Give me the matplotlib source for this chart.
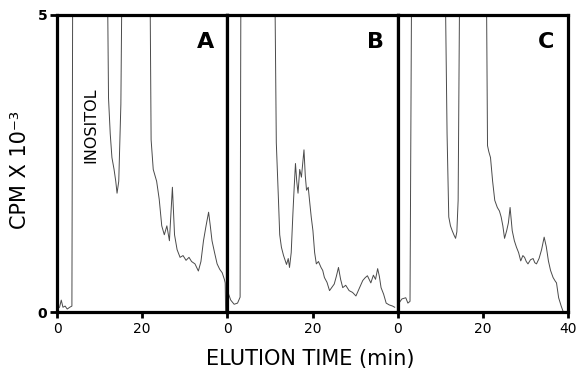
import matplotlib
matplotlib.use("Agg")
import matplotlib.pyplot as plt

# elution profiles, CPM x 10^-3; 6.0 marks peaks that run off the top of the scale
a_time = [0.0, 0.6, 1.0, 1.4, 1.9, 2.4, 3.0, 3.5, 3.7, 11.8, 12.1, 12.5, 12.9,
          13.4, 13.8, 14.1, 14.5, 15.0, 15.3, 21.8, 22.1, 22.6, 23.4, 24.0,
          24.6, 25.2, 25.8, 26.4, 27.1, 27.6, 28.2, 28.9, 29.6, 30.3, 31.0,
          31.6, 32.4, 33.2, 33.8, 34.4, 35.0, 35.6, 36.0, 36.4, 37.0, 37.6,
          38.2, 38.8, 39.3, 39.5, 39.6]
a_cpm = [0.05, 0.08, 0.2, 0.08, 0.1, 0.05, 0.08, 0.1, 6.0, 6.0, 3.6, 3.0, 2.6,
         2.4, 2.2, 2.0, 2.2, 3.5, 6.0, 6.0, 2.9, 2.4, 2.2, 1.9, 1.45, 1.3,
         1.45, 1.2, 2.1, 1.3, 1.05, 0.92, 0.95, 0.87, 0.92, 0.85, 0.81, 0.69,
         0.85, 1.2, 1.45, 1.68, 1.45, 1.2, 1.0, 0.81, 0.72, 0.66, 0.55, 0.49, 0.0]

b_time = [0.3, 0.8, 1.6, 2.4, 3.0, 3.2, 11.1, 11.5, 12.0, 12.3, 12.7, 13.2,
          13.9, 14.3, 14.6, 15.0, 15.4, 15.7, 16.0, 16.3, 16.6, 17.0, 17.4,
          17.7, 18.0, 18.3, 18.6, 19.0, 19.3, 19.7, 20.1, 20.5, 20.9, 21.4,
          22.0, 22.4, 22.8, 23.4, 24.0, 24.6, 25.1, 25.6, 26.1, 26.6, 27.1,
          27.8, 28.6, 29.4, 30.2, 31.0, 31.8, 32.4, 32.9, 33.3, 33.7, 34.3,
          34.8, 35.3, 35.7, 36.1, 36.7, 37.3, 38.0, 38.8, 39.3]
b_cpm = [0.3, 0.2, 0.13, 0.15, 0.25, 6.0, 6.0, 2.85, 1.9, 1.3, 1.09, 0.95,
         0.8, 0.9, 0.75, 1.0, 1.66, 2.1, 2.5, 2.2, 2.0, 2.4, 2.27, 2.5, 2.73,
         2.3, 2.05, 2.1, 1.88, 1.6, 1.37, 1.0, 0.81, 0.85, 0.75, 0.7, 0.58,
         0.5, 0.36, 0.42, 0.47, 0.6, 0.75, 0.55, 0.41, 0.45, 0.36, 0.33, 0.27,
         0.4, 0.53, 0.58, 0.61, 0.55, 0.49, 0.62, 0.55, 0.73, 0.6, 0.41, 0.3,
         0.15, 0.12, 0.1, 0.08]

c_time = [0.3, 1.0, 1.9, 2.4, 2.9, 3.3, 11.1, 11.6, 12.0, 12.4, 12.8, 13.2,
          13.6, 13.9, 14.2, 14.6, 20.8, 21.1, 21.4, 21.8, 22.3, 22.8, 23.4,
          23.9, 24.3, 24.7, 25.1, 25.6, 26.0, 26.4, 26.9, 27.4, 27.9, 28.4,
          28.9, 29.4, 29.8, 30.2, 30.6, 31.2, 31.8, 32.2, 32.6, 33.2, 33.8,
          34.4, 34.9, 35.4, 35.9, 36.5, 37.0, 37.3, 37.8, 38.4, 38.9]
c_cpm = [0.15, 0.22, 0.24, 0.15, 0.18, 6.0, 6.0, 3.0, 1.6, 1.45, 1.37, 1.3,
         1.24, 1.35, 1.88, 6.0, 6.0, 2.8, 2.7, 2.6, 2.2, 1.88, 1.76, 1.7, 1.6,
         1.45, 1.24, 1.37, 1.5, 1.76, 1.37, 1.2, 1.09, 1.0, 0.86, 0.95, 0.92,
         0.85, 0.81, 0.88, 0.9, 0.83, 0.81, 0.9, 1.05, 1.26, 1.1, 0.86, 0.7,
         0.58, 0.52, 0.49, 0.24, 0.1, 0.0]

panel_letters = ["A", "B", "C"]
x_ticks = [[0, 20], [0, 20], [0, 20, 40]]

fig = plt.figure(figsize=(5.77, 3.68), dpi=100)
plt.rcParams['font.family'] = ['DejaVu Sans']

left, right = 57 / 577, 568 / 577
bottom, top = (368 - 312) / 368, (368 - 15) / 368
w = (right - left) / 3

series = [(a_time, a_cpm), (b_time, b_cpm), (c_time, c_cpm)]
for i, (t, v) in enumerate(series):
    ax = fig.add_axes([left + i * w, bottom, w, top - bottom])
    ax.plot(t, v, color='#4a4a4a', lw=0.7)
    ax.set_xlim(0, 40)
    ax.set_ylim(0, 5)
    for s in ax.spines.values():
        s.set_linewidth(2.3)
    ax.set_xticks(x_ticks[i])
    ax.set_xticklabels([str(x) for x in x_ticks[i]], fontsize=10)
    ax.tick_params(axis='x', direction='out', length=4, width=2, pad=3)
    if i == 0:
        ax.set_yticks([0, 5])
        ax.set_yticklabels(['0', '5'], fontsize=10, fontweight='bold')
        ax.tick_params(axis='y', direction='out', length=5, width=2, pad=2)
        ax.text(8.0, 3.15, 'INOSITOL', rotation=90, fontsize=11.5,
                ha='center', va='center')
    else:
        ax.set_yticks([])
    ax.text(0.87, 0.91, panel_letters[i], transform=ax.transAxes,
            fontsize=16, fontweight='bold', ha='center', va='center')

fig.text(20 / 577, 1 - 170 / 368, 'CPM X 10\u207b\u00b3', rotation=90,
         fontsize=15, ha='center', va='center')
fig.text(310 / 577, 1 - 365 / 368, 'ELUTION TIME (min)', fontsize=15,
         ha='center', va='baseline')

fig.savefig('out.png', dpi=100)
